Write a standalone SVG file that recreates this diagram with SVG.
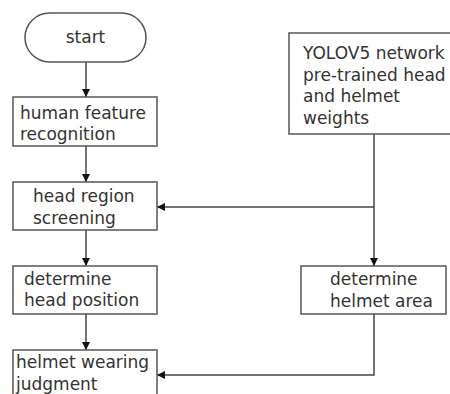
<svg xmlns="http://www.w3.org/2000/svg" width="450" height="394" viewBox="0 0 450 394">
<style>
.n{fill:#fff;stroke:#555;stroke-width:1.5}
.t{font-family:"DejaVu Sans","Noto Sans",sans-serif;font-size:17px;fill:#333}
.c{fill:none;stroke:#444;stroke-width:1.5}
</style>
<defs>
<marker id="a" viewBox="0 0 10 10" refX="10" refY="5" markerWidth="8" markerHeight="8" markerUnits="userSpaceOnUse" orient="auto">
<path d="M0,0L10,5L0,10z" fill="#111"/>
</marker>
</defs>
<rect width="450" height="394" fill="#fff"/>
<g id="connectors">
<path class="c" d="M86,62V97" marker-end="url(#a)"/>
<path class="c" d="M86,146V182" marker-end="url(#a)"/>
<path class="c" d="M86,230V266" marker-end="url(#a)"/>
<path class="c" d="M86,314V350" marker-end="url(#a)"/>
<path class="c" d="M374,134V266" marker-end="url(#a)"/>
<path class="c" d="M374,207H157" marker-end="url(#a)"/>
<path class="c" d="M374,314V375H157" marker-end="url(#a)"/>
</g>
<g id="start">
<rect class="n" x="25" y="13" width="121" height="49" rx="24.5"/>
<text class="t" x="85.5" y="43" text-anchor="middle">start</text>
</g>
<g id="human">
<rect class="n" x="13" y="97" width="144" height="49"/>
<text class="t" x="20" y="118.5">human feature</text>
<text class="t" x="20" y="140">recognition</text>
</g>
<g id="headregion">
<rect class="n" x="13" y="182" width="144" height="48"/>
<text class="t" x="33" y="202">head region</text>
<text class="t" x="33" y="223.5">screening</text>
</g>
<g id="headpos">
<rect class="n" x="13" y="266" width="144" height="48"/>
<text class="t" x="24" y="284.5">determine</text>
<text class="t" x="24" y="306">head position</text>
</g>
<g id="judgment">
<rect class="n" x="13" y="350" width="144" height="60"/>
<text class="t" x="16" y="368">helmet wearing</text>
<text class="t" x="16" y="389.5">judgment</text>
</g>
<g id="yolo">
<rect class="n" x="289" y="33" width="170" height="101"/>
<text class="t" x="303" y="59">YOLOV5 network</text>
<text class="t" x="303" y="80.5">pre-trained head</text>
<text class="t" x="303" y="102">and helmet</text>
<text class="t" x="303" y="123.5">weights</text>
</g>
<g id="helmetarea">
<rect class="n" x="301" y="266" width="145" height="48"/>
<text class="t" x="330" y="285">determine</text>
<text class="t" x="330" y="306.5">helmet area</text>
</g>
</svg>
